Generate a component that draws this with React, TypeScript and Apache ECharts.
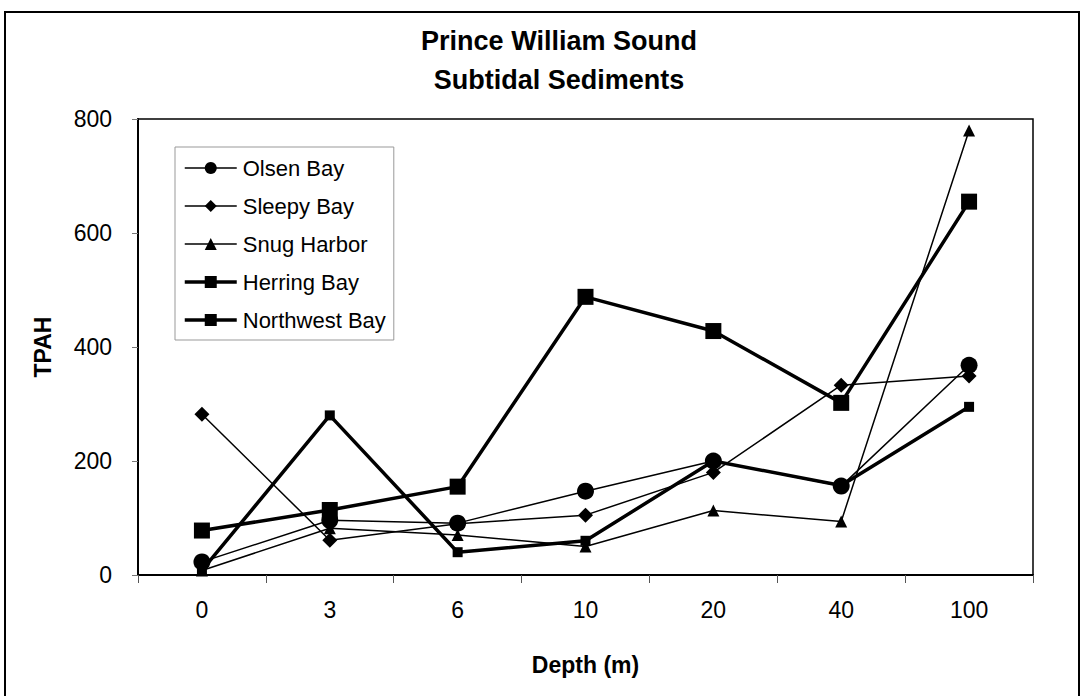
import React, { useEffect, useRef } from "react";
import * as echarts from "echarts";

const depths = ["0", "3", "6", "10", "20", "40", "100"];
const seriesNames = ["Olsen Bay", "Sleepy Bay", "Snug Harbor", "Herring Bay", "Northwest Bay"];
const olsenBay = [23, 96, 91, 147, 200, 156, 368];
const sleepyBay = [282, 61, 90, 105, 180, 333, 349];
const snugHarbor = [8, 82, 70, 50, 113, 94, 780];
const herringBay = [8, 280, 40, 60, 200, 157, 295];
const northwestBay = [78, 114, 155, 488, 428, 302, 655];
const yTicks = { min: 0, max: 800, interval: 200 };

const FONT = "'Liberation Sans', Arial, Helvetica, sans-serif";

export default function App() {
  const ref = useRef<HTMLDivElement>(null);
  useEffect(() => {
    if (!ref.current) return;
    const chart = echarts.init(ref.current, null, { renderer: "svg" });
    const values = [olsenBay, sleepyBay, snugHarbor, herringBay, northwestBay];
    const symbols = ["circle", "diamond", "triangle", "rect", "rect"];
    const sizes = [17, 15, 12, 10, 16];
    const widths = [1.5, 1.5, 1.5, 3.5, 3.5];
    chart.setOption({
      animation: false,
      backgroundColor: "#fff",
      textStyle: { fontFamily: FONT, color: "#000" },
      title: [
        {
          text: "Prince William Sound",
          left: 554,
          top: 22,
          textAlign: "center",
          textStyle: { fontFamily: FONT, fontSize: 27, fontWeight: "bold", color: "#000" },
        },
        {
          text: "Subtidal Sediments",
          left: 554,
          top: 61,
          textAlign: "center",
          textStyle: { fontFamily: FONT, fontSize: 27, fontWeight: "bold", color: "#000" },
        },
      ],
      graphic: [
        {
          type: "rect",
          shape: { x: 5, y: 12, width: 1074, height: 720 },
          style: { fill: "none", stroke: "#000", lineWidth: 2 },
          silent: true,
        },
      ],
      legend: {
        orient: "vertical",
        left: 175,
        top: 147,
        padding: [10, 8, 9, 8],
        itemWidth: 52,
        itemHeight: 15,
        itemGap: 16,
        borderColor: "#999",
        borderWidth: 1,
        backgroundColor: "#fff",
        textStyle: { fontFamily: FONT, fontSize: 22, color: "#000", padding: [0, 0, 0, 1] },
        data: seriesNames.map((name, i) => ({
          name,
          lineStyle: { width: widths[i], color: "#000" },
        })),
      },
      grid: {
        left: 138,
        top: 119,
        right: 50,
        bottom: 121,
        show: true,
        borderColor: "#000",
        borderWidth: 1.5,
        backgroundColor: "#fff",
      },
      xAxis: {
        type: "category",
        data: depths,
        boundaryGap: true,
        name: "Depth (m)",
        nameLocation: "middle",
        nameGap: 78,
        nameTextStyle: { fontFamily: FONT, fontSize: 23, fontWeight: "bold", color: "#000" },
        axisLine: { lineStyle: { color: "#000", width: 2 } },
        axisTick: { show: true, alignWithLabel: false, length: 8, inside: false, lineStyle: { color: "#555", width: 1 } },
        axisLabel: { margin: 23, fontSize: 23, fontFamily: FONT, color: "#000" },
        splitLine: { show: false },
      },
      yAxis: {
        type: "value",
        min: yTicks.min,
        max: yTicks.max,
        interval: yTicks.interval,
        name: "TPAH",
        nameLocation: "middle",
        nameRotate: 90,
        nameGap: 84,
        nameTextStyle: { fontFamily: FONT, fontSize: 23, fontWeight: "bold", color: "#000" },
        axisLine: { show: true, lineStyle: { color: "#000", width: 2 } },
        axisTick: { show: true, length: 6, inside: false, lineStyle: { color: "#777", width: 1 } },
        axisLabel: { margin: 26, fontSize: 23, fontFamily: FONT, color: "#000" },
        splitLine: { show: false },
      },
      series: seriesNames.map((name, i) => ({
        name,
        type: "line",
        data: values[i],
        symbol: symbols[i],
        symbolSize: sizes[i],
        showSymbol: true,
        lineStyle: { color: "#000", width: widths[i] },
        itemStyle: { color: "#000", borderWidth: 0 },
        emphasis: { disabled: true },
        z: 2 + i,
      })),
    });
    return () => chart.dispose();
  }, []);
  return (
    <div
      ref={ref}
      style={{ position: "absolute", left: 0, top: 0, width: 1083, height: 696 }}
    />
  );
}
